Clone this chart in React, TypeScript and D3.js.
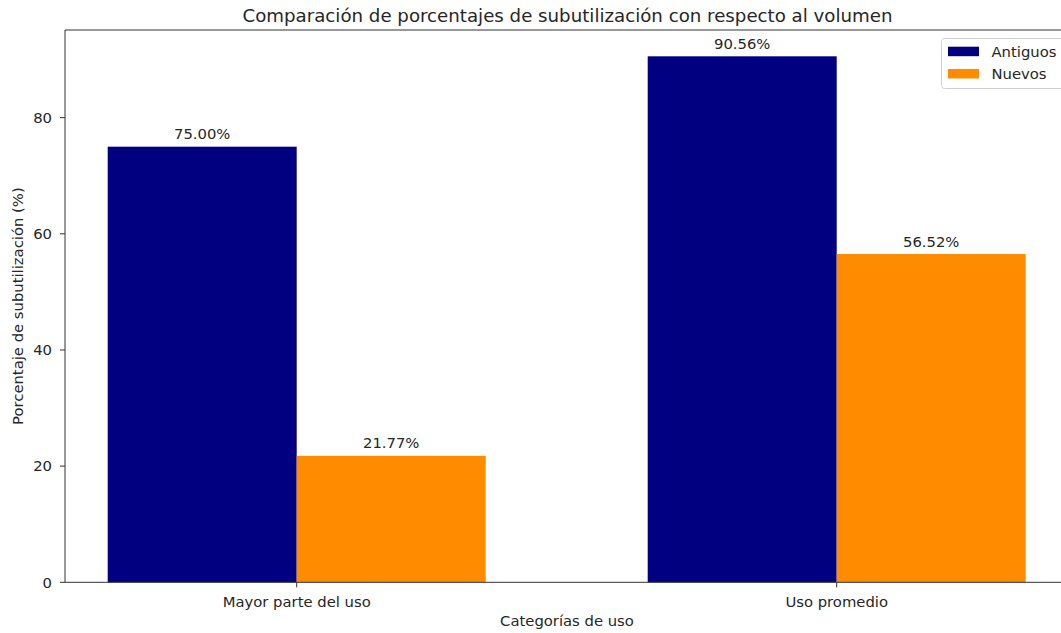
import React from "react";
import * as d3 from "d3";

const categories = ["Mayor parte del uso", "Uso promedio"];
const seriesNames = ["Antiguos", "Nuevos"];
const antiguos = [75.0, 90.56];
const nuevos = [21.77, 56.52];
const yTicks = [0, 20, 40, 60, 80];
const colors = ["#000080", "#ff8c00"];

const W = 1061;
const H = 633;
const left = 65;
const top = 30;
const bottom = 582.3;
const right = 1071;
const font = "'DejaVu Sans', sans-serif";
const textColor = "#262626";
const fs = 14.8;

export default function App() {
  const x = d3.scaleLinear().domain([0, 1]).range([296.7, 836.7]);
  const y = d3.scaleLinear().domain([0, 95.09]).range([bottom, top]);
  const barW = 0.35;
  const series = [antiguos, nuevos];
  const offsets = [-barW / 2, barW / 2];

  return (
    <svg
      width={W}
      height={H}
      style={{ position: "absolute", left: 0, top: 0, background: "#fff" }}
      fontFamily={font}
    >
      <rect x={0} y={0} width={W} height={H} fill="#fff" />
      {series.map((vals, si) =>
        vals.map((v, ci) => {
          const x0 = x(ci + offsets[si] - barW / 2);
          const x1 = x(ci + offsets[si] + barW / 2);
          return (
            <g key={`${si}-${ci}`}>
              <rect x={x0} y={y(v)} width={x1 - x0} height={bottom - y(v)} fill={colors[si]} />
              <text
                x={(x0 + x1) / 2}
                y={y(v) - 7.5}
                textAnchor="middle"
                fontSize={fs}
                fill={textColor}
              >
                {v.toFixed(2) + "%"}
              </text>
            </g>
          );
        })
      )}
      {/* spines */}
      <line x1={left} x2={left} y1={top} y2={bottom} stroke="#333" strokeWidth={1} />
      <line x1={left} x2={right} y1={bottom} y2={bottom} stroke="#333" strokeWidth={1} />
      <line x1={left} x2={right} y1={top} y2={top} stroke="#333" strokeWidth={1} />
      {/* y ticks */}
      {yTicks.map((t) => (
        <g key={t}>
          <line x1={left - 5} x2={left} y1={y(t)} y2={y(t)} stroke="#333" />
          <text x={left - 13} y={y(t)} dy="0.36em" textAnchor="end" fontSize={fs} fill={textColor}>
            {t}
          </text>
        </g>
      ))}
      {/* x ticks */}
      {categories.map((c, i) => (
        <g key={c}>
          <line x1={x(i)} x2={x(i)} y1={bottom} y2={bottom + 5} stroke="#333" />
          <text x={x(i)} y={606.5} textAnchor="middle" fontSize={fs} fill={textColor}>
            {c}
          </text>
        </g>
      ))}
      {/* labels */}
      <text x={567} y={625.5} textAnchor="middle" fontSize={fs} fill={textColor}>
        Categorías de uso
      </text>
      <text
        transform={`translate(23,${(top + bottom) / 2}) rotate(-90)`}
        textAnchor="middle"
        fontSize={fs}
        fill={textColor}
      >
        Porcentaje de subutilización (%)
      </text>
      <text x={567.5} y={21.5} textAnchor="middle" fontSize={18.2} fill={textColor}>
        Comparación de porcentajes de subutilización con respecto al volumen
      </text>
      {/* legend */}
      <rect x={941.5} y={38.5} width={140} height={50} rx={3} fill="#fff" fillOpacity={0.8} stroke="#d0d0d0" />
      {seriesNames.map((s, i) => (
        <g key={s}>
          <rect x={948} y={46.7 + i * 22.3} width={31} height={9.5} fill={colors[i]} />
          <text x={991.5} y={51.5 + i * 22.3} dy="0.36em" fontSize={fs} fill={textColor}>
            {s}
          </text>
        </g>
      ))}
    </svg>
  );
}
